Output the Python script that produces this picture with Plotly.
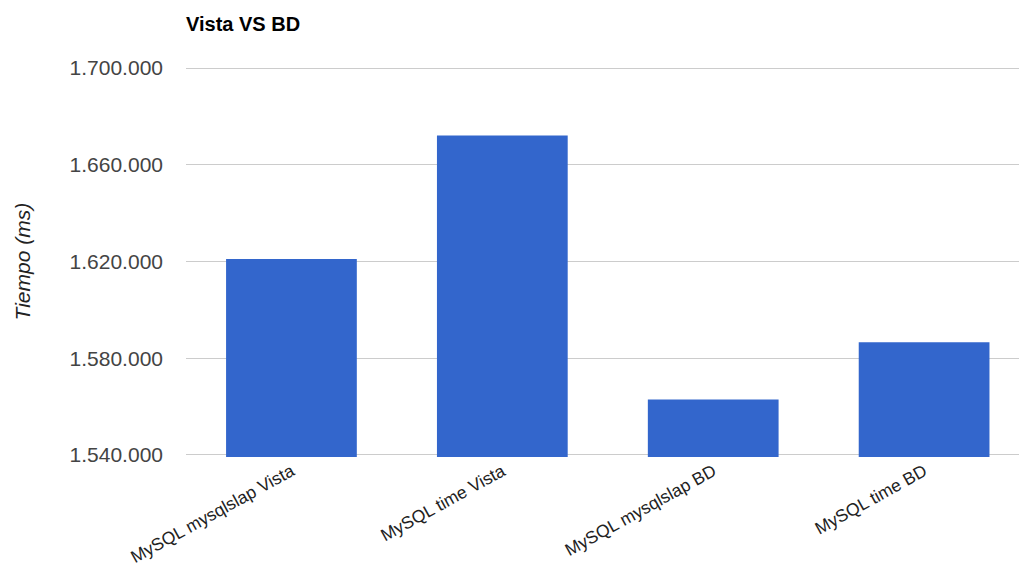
import plotly.graph_objects as go

categories = ["MySQL mysqlslap Vista", "MySQL time Vista", "MySQL mysqlslap BD", "MySQL time BD"]
values = [1621000, 1672100, 1562900, 1586600]
tick_vals = [1540000, 1580000, 1620000, 1660000, 1700000]

fig = go.Figure()
fig.add_trace(go.Bar(x=categories, y=values, marker=dict(color="#3366cc", line=dict(width=0))))

W, H = 1019, 570
L, T, B = 186, 66, 113

fig.update_layout(
    width=W, height=H,
    margin=dict(l=L, r=0, t=T, b=B, pad=0, autoexpand=False),
    paper_bgcolor="white", plot_bgcolor="white",
    separators=",.",
    bargap=0.38,
    showlegend=False,
    font=dict(family="Liberation Sans, Arial", color="#444444"),
    title=dict(text="<b>Vista VS BD</b>", x=0, xref="paper", xanchor="left",
               y=1 - 24 / H, yref="container", yanchor="middle",
               font=dict(size=20, color="#000000", family="Liberation Sans, Arial")),
    xaxis=dict(range=[-0.5, 3.45], tickangle=-29, showgrid=False, zeroline=False,
               showline=False, ticks="", automargin=False,
               tickfont=dict(size=17.5, color="#222222")),
    yaxis=dict(range=[1539170, 1700830], tickvals=tick_vals, tickformat=",d",
               showgrid=True, gridcolor="#cccccc", gridwidth=1, zeroline=False,
               showline=False, ticks="", ticklabelstandoff=22, automargin=False,
               tickfont=dict(size=21, color="#444444")),
    annotations=[dict(text="<i>Tiempo (ms)</i>", textangle=-90, xref="paper", yref="paper",
                      x=(22 - L) / (W - L), y=0.5, xanchor="center", yanchor="middle",
                      showarrow=False, font=dict(size=21, color="#222222"))],
)

fig.write_html("out.html")
